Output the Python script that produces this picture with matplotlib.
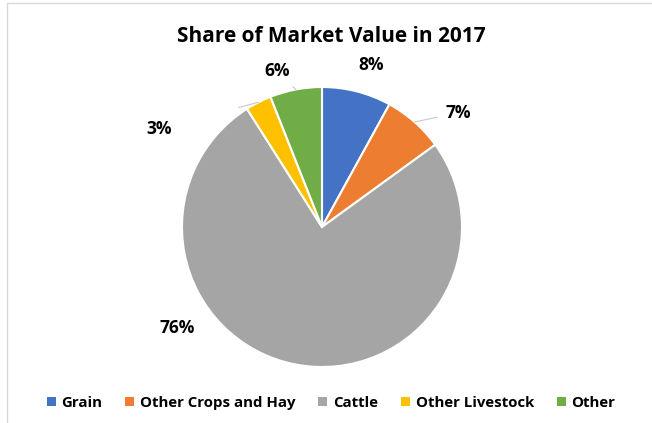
import matplotlib
matplotlib.use('Agg')
import matplotlib.pyplot as plt
from matplotlib.patches import Patch
import numpy as np

# data
categories = ['Grain', 'Other Crops and Hay', 'Cattle', 'Other Livestock', 'Other']
shares = [8, 7, 76, 3, 6]
colors = ['#4472C4', '#ED7D31', '#A5A5A5', '#FFC000', '#70AD47']
labels = ['8%', '7%', '76%', '3%', '6%']

# label placement (angle from 12 o'clock clockwise, distance in radii)
label_angle = [17, 50, 235, 301, 344]
label_dist = [1.21, 1.27, 1.26, 1.36, 1.16]
# leader line: shrink from label side (points), None = no line
leader_shrink = [None, 4, None, 48, 4]

plt.rcParams['font.family'] = ['Open Sans', 'DejaVu Sans']
plt.rcParams['font.weight'] = 'bold'

fig = plt.figure(figsize=(6.52, 4.23), dpi=100)
ax = fig.add_axes([0, 0, 1, 1])

cx, cy, r = 322, 196, 140
wedges, _ = ax.pie(shares, colors=colors, startangle=90, counterclock=False,
                   center=(cx, cy), radius=r, frame=True,
                   wedgeprops=dict(edgecolor='white', linewidth=1.5))
ax.set_xlim(0, 652)
ax.set_ylim(0, 423)
ax.set_aspect('equal')
ax.axis('off')

for w, lab, a, d, sh in zip(wedges, labels, label_angle, label_dist, leader_shrink):
    t = np.deg2rad(a)
    tx = cx + d * r * np.sin(t)
    ty = cy + d * r * np.cos(t)
    if sh is not None:
        mid = np.deg2rad((w.theta1 + w.theta2) / 2)
        ex = cx + r * np.cos(mid)
        ey = cy + r * np.sin(mid)
        ax.annotate(lab, xy=(ex, ey), xytext=(tx, ty), ha='center', va='center',
                    fontsize=12.5, fontweight='bold', color='black',
                    arrowprops=dict(arrowstyle='-', color='#c8c8c8', lw=0.8,
                                    shrinkA=sh, shrinkB=0))
    else:
        ax.text(tx, ty, lab, ha='center', va='center', fontsize=12.5,
                fontweight='bold', color='black')

ax.text(331, 387, 'Share of Market Value in 2017', ha='center', va='center',
        fontsize=15, fontweight='bold', color='black')

handles = [Patch(facecolor=c, edgecolor='none') for c in colors]
ax.legend(handles, categories, loc='center', bbox_to_anchor=(331, 20),
          bbox_transform=ax.transData, ncol=5, frameon=False,
          handlelength=0.6, handleheight=0.6, handletextpad=0.4,
          columnspacing=1.5, prop=dict(size=10.8, weight='bold'))

# chart border (top and left visible)
ax.plot([6.5, 6.5, 652], [0, 420.5, 420.5], color='#d9d9d9', lw=1)

fig.savefig('out.png', dpi=100)
